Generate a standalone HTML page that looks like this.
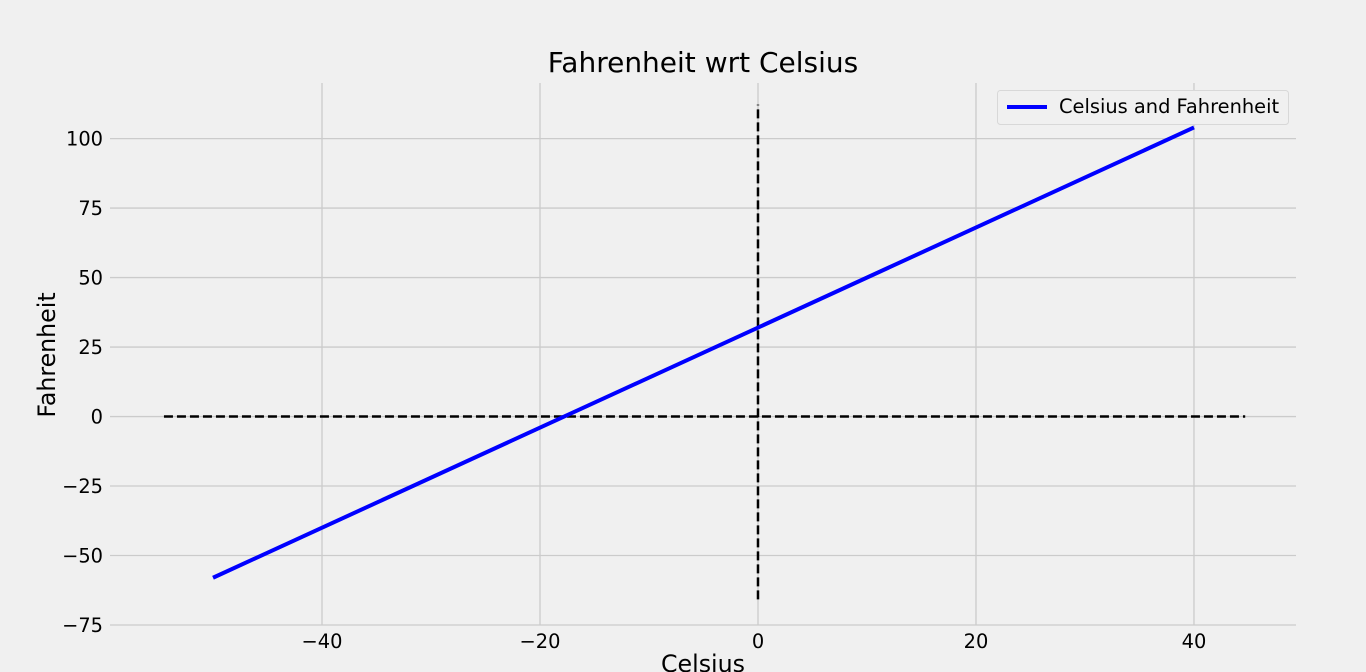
<!DOCTYPE html>
<html><head><meta charset="utf-8"><style>
body{margin:0;background:#f0f0f0;}
svg{display:block;font-family:"DejaVu Sans","Liberation Sans",sans-serif;}
</style></head><body>
<svg id="chart" width="1366" height="672">
<rect width="1366" height="672" fill="#f0f0f0"/>
<g id="grid"></g>
<g id="ticks"></g>
<g id="series"></g>
<text x="703" y="72" text-anchor="middle" font-size="28" fill="#000">Fahrenheit wrt Celsius</text>
<text x="703" y="672" text-anchor="middle" font-size="23.7" fill="#000">Celsius</text>
<text transform="translate(55,355) rotate(-90)" text-anchor="middle" font-size="23.7" fill="#000">Fahrenheit</text>
<g>
<rect x="997.5" y="90.5" width="291" height="34" rx="3" fill="#f0f0f0" stroke="#d8d8d8"/>
<line x1="1007" y1="107" x2="1047" y2="107" stroke="#0000ff" stroke-width="4"/>
<text x="1059" y="113" font-size="19.4" fill="#000">Celsius and Fahrenheit</text>
</g>
</svg>
<script>
const xTicks=[-40,-20,0,20,40];
const yTicks=[-75,-50,-25,0,25,50,75,100];
const celsius=[-50,40];
const fahrenheit=[-58,104];
const hlineX=[-54.5,44.7];
const vlineY=[-65.8,112.2];
const xMin=-59.45,xMax=49.36,yMin=-75,yMax=120;
const L=110,R=1296,T=83,B=625;
const sx=v=>L+(v-xMin)/(xMax-xMin)*(R-L);
const sy=v=>B-(v-yMin)/(yMax-yMin)*(B-T);
const NS="http://www.w3.org/2000/svg";
function mk(tag,attrs,parent){const e=document.createElementNS(NS,tag);for(const k in attrs)e.setAttribute(k,attrs[k]);document.getElementById(parent).appendChild(e);return e;}
xTicks.forEach(t=>{
 const g=mk('line',{x1:sx(t),x2:sx(t),y1:T,y2:B,stroke:'#cbcbcb','stroke-width':1.3},'grid');
 
 
 const l=mk('text',{x:sx(t),y:B+23,'text-anchor':'middle','font-size':19.4,fill:'#000'},'ticks');
 l.textContent=(t<0?'\u2212'+(-t):t);
 
 
});
yTicks.forEach(t=>{
 const g=mk('line',{x1:L,x2:R,y1:sy(t),y2:sy(t),stroke:'#cbcbcb','stroke-width':1.3},'grid');
 
 
 const l=mk('text',{x:L-7,y:sy(t)+7,'text-anchor':'end','font-size':19.4,fill:'#000'},'ticks');
 l.textContent=(t<0?'\u2212'+(-t):t);
 
 
});
const h=mk('line',{x1:sx(hlineX[0]),x2:sx(hlineX[1]),y1:sy(0),y2:sy(0),stroke:'#000','stroke-width':2.5,'stroke-dasharray':'9,4'},'series');


const v=mk('line',{x1:sx(0),x2:sx(0),y1:sy(vlineY[0]),y2:sy(vlineY[1]),stroke:'#000','stroke-width':2.5,'stroke-dasharray':'9,4'},'series');


const p=mk('polyline',{points:celsius.map((c,i)=>sx(c)+','+sy(fahrenheit[i])).join(' '),fill:'none',stroke:'#0000ff','stroke-width':4},'series');


</script>
</body></html>
